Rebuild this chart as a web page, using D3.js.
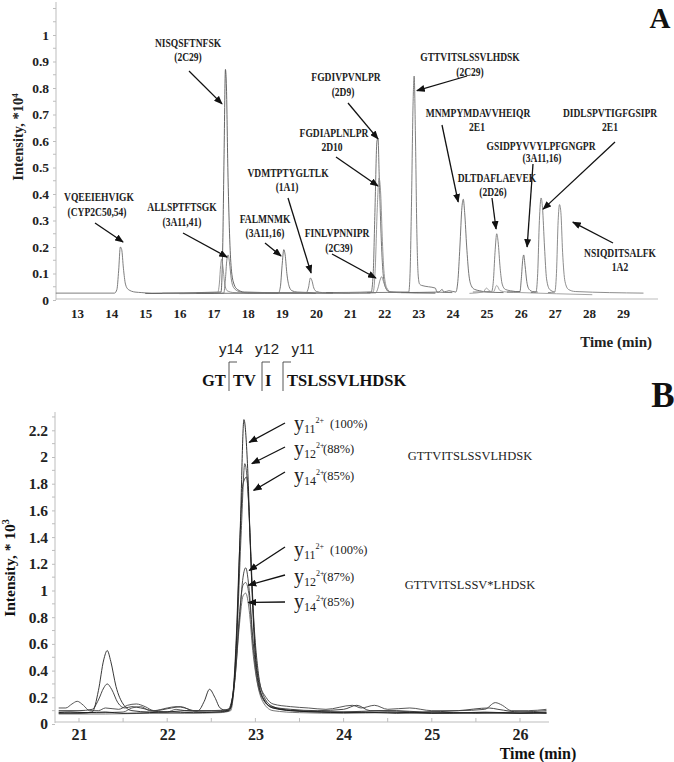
<!DOCTYPE html>
<html><head><meta charset="utf-8">
<script src="https://cdn.jsdelivr.net/npm/d3@7"></script>
<style>body{margin:0;background:#fff} svg{display:block}</style>
</head><body><svg id="c" width="674" height="762"></svg>
<script>
// ---------------- DATA ----------------
// Panel A: time (min) axis and intensity (*10^4) axis
const timeTicksA = [13,14,15,16,17,18,19,20,21,22,23,24,25,26,27,28,29];
const intensityTicksA = [0,0.1,0.2,0.3,0.4,0.5,0.6,0.7,0.8,0.9,1];
const intensityLabelsA = ["0","0.1","0.2","0.3","0.4","0.5","0.6","0.7","0.8","0.9","1"];
const intensityMinorA = [0.05,0.15,0.25,0.35,0.45,0.55,0.65,0.75,0.85,0.95,1.05,1.1];

// Panel A chromatogram traces: [time, intensity*10^4]
const traceA_VQE = [[12.38,0.026],[14.1,0.026],[14.17,0.04],[14.22,0.11],[14.27,0.2],[14.31,0.19],[14.36,0.12],[14.42,0.06],[14.5,0.04],[14.7,0.03],[14.9,0.028],[15.2,0.025],[17.0,0.025]];
const traceA_NIS = [[15.0,0.025],[17.22,0.03],[17.27,0.2],[17.31,0.55],[17.35,0.87],[17.38,0.8],[17.42,0.5],[17.47,0.25],[17.52,0.12],[17.6,0.06],[17.7,0.04],[17.9,0.03],[20.0,0.025]];
const traceA_ALL1 = [[15.5,0.026],[17.12,0.027],[17.17,0.06],[17.21,0.13],[17.24,0.155],[17.28,0.12],[17.33,0.06],[17.4,0.035],[17.6,0.028],[18.5,0.025],[19.5,0.025]];
const traceA_ALL2 = [[16.0,0.024],[17.3,0.026],[17.35,0.08],[17.39,0.15],[17.43,0.17],[17.47,0.14],[17.52,0.08],[17.6,0.045],[17.75,0.032],[18.0,0.027],[21.0,0.025]];
const traceA_FAL = [[16.5,0.025],[18.9,0.026],[18.96,0.05],[19.01,0.13],[19.06,0.19],[19.1,0.17],[19.15,0.1],[19.22,0.05],[19.3,0.035],[19.45,0.03],[20.5,0.026]];
const traceA_VDM = [[18.0,0.028],[19.72,0.028],[19.78,0.045],[19.84,0.083],[19.88,0.075],[19.94,0.045],[20.02,0.032],[20.2,0.028],[21.6,0.026]];
const traceA_FGDIV = [[20.3,0.028],[21.62,0.03],[21.68,0.1],[21.73,0.33],[21.79,0.6],[21.82,0.61],[21.86,0.45],[21.91,0.25],[21.97,0.1],[22.05,0.045],[22.15,0.03],[23.0,0.028]];
const traceA_FGDIA = [[20.5,0.026],[21.68,0.03],[21.74,0.12],[21.8,0.35],[21.85,0.46],[21.9,0.4],[21.95,0.22],[22.0,0.1],[22.08,0.045],[22.2,0.03],[23.5,0.026]];
const traceA_FIN = [[20.8,0.025],[21.75,0.027],[21.82,0.045],[21.88,0.075],[21.93,0.088],[21.98,0.07],[22.05,0.045],[22.15,0.032],[22.4,0.028],[23.5,0.026]];
const traceA_GTT = [[21.5,0.028],[22.72,0.03],[22.76,0.1],[22.8,0.35],[22.85,0.75],[22.88,0.845],[22.92,0.6],[22.96,0.25],[23.0,0.09],[23.04,0.06],[23.1,0.055],[23.3,0.05],[23.5,0.045],[23.55,0.03],[24.0,0.028]];
const traceA_MNM = [[22.5,0.028],[23.6,0.03],[23.7,0.04],[23.75,0.03],[23.9,0.035],[24.1,0.03],[24.16,0.07],[24.22,0.2],[24.28,0.35],[24.32,0.38],[24.36,0.33],[24.42,0.2],[24.48,0.1],[24.55,0.055],[24.65,0.04],[24.8,0.035],[25.0,0.03],[25.5,0.028]];
const traceA_DLT = [[24.6,0.03],[25.15,0.032],[25.2,0.07],[25.25,0.18],[25.3,0.25],[25.34,0.22],[25.4,0.12],[25.46,0.06],[25.55,0.04],[25.7,0.035],[26.0,0.03]];
const traceA_bump = [[24.5,0.025],[24.9,0.03],[25.0,0.045],[25.08,0.035],[25.2,0.03],[25.3,0.055],[25.4,0.035],[25.6,0.03],[26.0,0.028],[28.1,0.02]];
const traceA_GSI = [[25.6,0.03],[25.98,0.032],[26.02,0.08],[26.06,0.15],[26.09,0.17],[26.13,0.13],[26.18,0.07],[26.25,0.04],[26.35,0.032],[26.5,0.03]];
const traceA_DID = [[26.3,0.028],[26.45,0.03],[26.5,0.1],[26.55,0.3],[26.6,0.385],[26.64,0.35],[26.7,0.2],[26.76,0.08],[26.85,0.04],[27.0,0.03]];
const traceA_NSI = [[26.8,0.028],[27.0,0.03],[27.05,0.1],[27.1,0.3],[27.14,0.36],[27.18,0.33],[27.23,0.18],[27.3,0.07],[27.4,0.04],[27.6,0.032],[29.6,0.026]];
const tracesA = [traceA_VQE, traceA_NIS, traceA_ALL1, traceA_ALL2, traceA_FAL, traceA_VDM, traceA_FGDIV, traceA_FGDIA, traceA_FIN, traceA_GTT, traceA_MNM, traceA_DLT, traceA_bump, traceA_GSI, traceA_DID, traceA_NSI];

// Panel A annotations
const peptidesA = ["VQEEIEHVIGK","ALLSPTFTSGK","NISQSFTNFSK","FALMNMK","VDMTPTYGLTLK","FINLVPNNIPR","FGDIAPLNLPR","FGDIVPVNLPR","GTTVITSLSSVLHDSK","MNMPYMDAVVHEIQR","DLTDAFLAEVEK","GSIDPYVVYLPFGNGPR","DIDLSPVTIGFGSIPR","NSIQDITSALFK"];
const isoformsA = ["(CYP2C50,54)","(3A11,41)","(2C29)","(3A11,16)","(1A1)","(2C39)","2D10","(2D9)","(2C29)","2E1","(2D26)","(3A11,16)","2E1","1A2"];
const tipTimesA = [14.35,17.4,17.25,18.98,19.86,21.76,21.82,21.82,22.96,24.17,25.28,26.19,26.66,27.53];
const tipValuesA = [0.219,0.162,0.74,0.166,0.102,0.083,0.43,0.608,0.79,0.37,0.268,0.2,0.343,0.294];

// Panel B
const timeTicksB = [21,22,23,24,25,26];
const timeMinorB = [21.5,22.5,23.5,24.5,25.5];
const intensityTicksB = [0,0.2,0.4,0.6,0.8,1,1.2,1.4,1.6,1.8,2,2.2];
const intensityLabelsB = ["0","0.2","0.4","0.6","0.8","1","1.2","1.4","1.6","1.8","2","2.2"];
const intensityMinorB = [0.1,0.3,0.5,0.7,0.9,1.1,1.3,1.5,1.7,1.9,2.1,2.3];

const traceB_y11 = [[20.77,0.085],[20.9,0.09],[21.1,0.085],[21.3,0.09],[21.5,0.08],[21.8,0.085],[22.0,0.09],[22.3,0.085],[22.6,0.09],[22.7,0.1],[22.75,0.25],[22.79,0.7],[22.83,1.5],[22.87,2.28],[22.91,1.95],[22.95,1.2],[22.99,0.6],[23.04,0.3],[23.1,0.18],[23.2,0.12],[23.4,0.1],[23.7,0.09],[24.0,0.085],[24.5,0.09],[25.0,0.08],[25.5,0.085],[26.0,0.08],[26.3,0.085]];
const traceB_y12 = [[20.77,0.12],[20.85,0.12],[20.92,0.15],[20.98,0.17],[21.05,0.14],[21.12,0.1],[21.22,0.1],[21.3,0.12],[21.45,0.11],[21.55,0.14],[21.65,0.15],[21.75,0.13],[21.85,0.1],[22.0,0.12],[22.1,0.13],[22.2,0.12],[22.3,0.1],[22.5,0.1],[22.7,0.11],[22.76,0.3],[22.8,0.8],[22.84,1.45],[22.88,1.95],[22.92,1.7],[22.96,1.05],[23.0,0.55],[23.05,0.3],[23.12,0.2],[23.2,0.15],[23.4,0.13],[23.6,0.12],[23.8,0.11],[24.1,0.14],[24.2,0.12],[24.35,0.14],[24.5,0.11],[24.75,0.12],[25.0,0.1],[25.3,0.1],[25.6,0.11],[25.72,0.16],[25.8,0.14],[25.9,0.1],[26.1,0.1],[26.3,0.11]];
const traceB_y14 = [[20.77,0.08],[21.0,0.08],[21.15,0.09],[21.22,0.25],[21.28,0.48],[21.32,0.55],[21.36,0.47],[21.42,0.28],[21.5,0.15],[21.6,0.1],[21.8,0.09],[22.0,0.09],[22.2,0.1],[22.35,0.1],[22.42,0.17],[22.48,0.26],[22.54,0.2],[22.6,0.12],[22.68,0.1],[22.74,0.2],[22.78,0.6],[22.82,1.3],[22.86,1.8],[22.9,1.85],[22.94,1.4],[22.98,0.8],[23.03,0.4],[23.1,0.2],[23.2,0.13],[23.4,0.1],[23.8,0.09],[24.2,0.09],[24.6,0.08],[25.0,0.09],[25.5,0.08],[26.0,0.09],[26.3,0.08]];
const traceB_y11v = [[20.77,0.1],[21.0,0.1],[21.15,0.11],[21.22,0.18],[21.28,0.27],[21.32,0.3],[21.37,0.26],[21.44,0.16],[21.52,0.12],[21.6,0.13],[21.7,0.12],[21.85,0.1],[22.05,0.12],[22.15,0.13],[22.3,0.1],[22.6,0.1],[22.72,0.12],[22.77,0.35],[22.82,0.8],[22.86,1.1],[22.89,1.17],[22.93,1.0],[22.97,0.65],[23.02,0.35],[23.08,0.2],[23.18,0.13],[23.4,0.11],[23.7,0.1],[24.0,0.11],[24.15,0.14],[24.3,0.1],[24.6,0.1],[24.9,0.09],[25.3,0.1],[25.65,0.12],[25.75,0.11],[26.0,0.09],[26.3,0.1]];
const traceB_y12v = [[20.77,0.09],[21.2,0.085],[21.5,0.09],[21.6,0.12],[21.7,0.13],[21.8,0.1],[22.0,0.09],[22.1,0.11],[22.2,0.1],[22.5,0.09],[22.7,0.1],[22.76,0.3],[22.81,0.75],[22.86,1.04],[22.89,1.06],[22.93,0.95],[22.97,0.6],[23.02,0.32],[23.1,0.17],[23.2,0.12],[23.5,0.1],[24.0,0.09],[24.4,0.1],[24.8,0.09],[25.2,0.08],[25.6,0.09],[26.0,0.08],[26.3,0.09]];
const traceB_y14v = [[20.77,0.075],[21.3,0.075],[21.8,0.08],[22.2,0.08],[22.6,0.085],[22.72,0.1],[22.77,0.35],[22.82,0.75],[22.86,0.96],[22.89,0.98],[22.93,0.85],[22.97,0.55],[23.03,0.28],[23.1,0.15],[23.2,0.1],[23.5,0.085],[24.0,0.08],[24.5,0.085],[25.0,0.08],[25.5,0.085],[26.0,0.08],[26.3,0.08]];
const tracesB = [traceB_y14v, traceB_y12v, traceB_y11v, traceB_y14, traceB_y12, traceB_y11];

const ionNamesB = ["11","12","14","11","12","14"];
const ionShareB = ["(100%)","(88%)","(85%)","(100%)","(87%)","(85%)"];
const tipTimesB = [22.93,22.96,22.98,22.93,22.92,22.92];
const tipValuesB = [2.11,1.95,1.75,1.15,1.04,0.91];
const sequencesB = ["GTTVITSLSSVLHDSK","GTTVITSLSSV*LHDSK"];

// Fragment map
const fragSegments = ["GT","TV","I","TSLSSVLHDSK"];
const fragIons = ["y14","y12","y11"];

// ---------------- LAYOUT / STYLE ----------------
const SERIF = "'Liberation Serif','Times New Roman',serif";
const svg = d3.select("#c");
const defs = svg.append("defs");
defs.append("marker").attr("id","ah").attr("markerUnits","userSpaceOnUse")
  .attr("viewBox","0 0 10 8").attr("refX",9).attr("refY",4)
  .attr("markerWidth",9).attr("markerHeight",7).attr("orient","auto")
  .append("path").attr("d","M0,0 L10,4 L0,8 Z").attr("fill","#111");

// horizontally condensed text label placed via transform
function condensedText(parent, x, y, txt, factor){
  return parent.append("g").attr("transform",`translate(${x},${y}) scale(${factor},1)`)
    .append("text").attr("x",0).attr("y",0).attr("text-anchor","middle").text(txt);
}

// ===== Panel A =====
const xA = d3.scaleLinear().domain([13,29]).range([77,623]);
const yA = d3.scaleLinear().domain([0,1]).range([300,35]);
const gA = svg.append("g");
const axisColor = "#bdbdbd";

gA.append("line").attr("x1",56).attr("x2",56).attr("y1",2).attr("y2",yA(0)).attr("stroke",axisColor);
gA.append("line").attr("x1",56).attr("x2",658).attr("y1",yA(0)-1).attr("y2",yA(0)-1).attr("stroke",axisColor);

const yAxisA = d3.axisLeft(yA).tickValues(intensityTicksA).tickSize(3).tickPadding(4)
  .tickFormat((d,i)=>intensityLabelsA[i]);
const yAg = gA.append("g").attr("transform","translate(56,0)").call(yAxisA);
yAg.select(".domain").remove();
yAg.selectAll(".tick line").attr("stroke",axisColor);
yAg.selectAll(".tick text").attr("font-family",SERIF).attr("font-weight","bold").attr("font-size",13.5).attr("fill","#222");
gA.append("g").selectAll("line").data(intensityMinorA).join("line")
  .attr("x1",53).attr("x2",56).attr("y1",d=>yA(d)).attr("y2",d=>yA(d)).attr("stroke",axisColor);

const xAxisA = d3.axisBottom(xA).tickValues(timeTicksA).tickSize(0).tickPadding(9).tickFormat(d3.format("d"));
const xAg = gA.append("g").attr("transform",`translate(0,${yA(0)})`).call(xAxisA);
xAg.select(".domain").remove();
xAg.selectAll(".tick text").attr("font-family",SERIF).attr("font-weight","bold").attr("font-size",13).attr("fill","#222");

gA.append("text").attr("x",652).attr("y",347).attr("text-anchor","end")
  .attr("font-family",SERIF).attr("font-weight","bold").attr("font-size",15).attr("fill","#222").text("Time (min)");
const ytA = gA.append("text").attr("transform","translate(23,137) rotate(-90)").attr("text-anchor","middle")
  .attr("font-family",SERIF).attr("font-weight","bold").attr("font-size",14.5).attr("fill","#222");
ytA.append("tspan").text("Intensity, *10");
ytA.append("tspan").attr("font-size",9).attr("dy",-5).text("4");

const lineA = d3.line().x(d=>xA(d[0])).y(d=>yA(d[1])).curve(d3.curveMonotoneX);
const grayA = ["#6f6f6f","#555","#8a8a8a","#777","#666","#777","#666","#8c8c8c","#888","#707070","#666","#777","#9a9a9a","#666","#777","#808080"];
gA.append("g").selectAll("path").data(tracesA).join("path")
  .attr("d",lineA).attr("fill","none").attr("stroke",(d,i)=>grayA[i]).attr("stroke-width",0.9);

// annotations A: [labelX, peptideBaselineY, isoformBaselineY, arrowStartX, arrowStartY, isoformX]
const layoutA = [
  [99,201,216,95,223,97],
  [182,211,226,183,233,182],
  [188,47,61,189,71,188],
  [265,223,237,265,243,265],
  [288,177,191,288,198,287],
  [337,237,252,332,254,339],
  [334,137,151,336,157,332],
  [346,81,96,348,103,343],
  [470,61,76,467,76,470],
  [478,117,131,442,125,477],
  [497,182,196,492,198,493],
  [541,150,162,533,164,542],
  [610,117,131,615,142,610],
  [620,257,271,613,243,620]
];
const annA = gA.append("g").attr("font-family",SERIF).attr("font-weight","bold").attr("font-size",11.5).attr("fill","#222");
peptidesA.forEach((p,i)=>{
  const L = layoutA[i];
  condensedText(annA, L[0], L[1], p, 0.83);
  condensedText(annA, L[5], L[2], isoformsA[i], 0.83);
  annA.append("line").attr("x1",L[3]).attr("y1",L[4]).attr("x2",xA(tipTimesA[i])).attr("y2",yA(tipValuesA[i]))
    .attr("stroke","#111").attr("stroke-width",1.3).attr("marker-end","url(#ah)");
});
svg.append("text").attr("x",660).attr("y",28).attr("text-anchor","middle").attr("font-family",SERIF)
  .attr("font-weight","bold").attr("font-size",29).attr("fill","#111").text("A");

// ===== Fragment map =====
const fm = svg.append("g").attr("font-family",SERIF).attr("font-weight","bold").attr("font-size",16.5).attr("fill","#111");
const segX = [202,233,265,287];
const brX = [229,262,283];
fragSegments.forEach((s,i)=>{ fm.append("text").attr("x",segX[i]).attr("y",386).text(s); });
brX.forEach(x=>{
  fm.append("path").attr("d",`M${x},391 L${x},362 L${x+8},362`).attr("fill","none").attr("stroke","#444").attr("stroke-width",0.9);
});
const ionX = [231,267,303];
fragIons.forEach((s,i)=>{
  svg.append("text").attr("x",ionX[i]).attr("y",354).attr("text-anchor","middle").attr("font-family","'Liberation Sans',Arial,sans-serif")
    .attr("font-size",15).attr("fill","#222").text(s);
});

// ===== Panel B =====
const xB = d3.scaleLinear().domain([21,26]).range([79,520]);
const yB = d3.scaleLinear().domain([0,2.2]).range([724,430.3]);
const gB = svg.append("g");
gB.append("line").attr("x1",55).attr("x2",55).attr("y1",412).attr("y2",yB(0)-1).attr("stroke",axisColor);
gB.append("line").attr("x1",55).attr("x2",549).attr("y1",yB(0)-2).attr("y2",yB(0)-2).attr("stroke",axisColor);
const yAxisB = d3.axisLeft(yB).tickValues(intensityTicksB).tickSize(3).tickPadding(4).tickFormat((d,i)=>intensityLabelsB[i]);
const yBg = gB.append("g").attr("transform","translate(55,0)").call(yAxisB);
yBg.select(".domain").remove();
yBg.selectAll(".tick line").attr("stroke",axisColor);
yBg.selectAll(".tick text").attr("font-family",SERIF).attr("font-weight","bold").attr("font-size",15.5).attr("fill","#222");
gB.append("g").selectAll("line").data(intensityMinorB).join("line")
  .attr("x1",52).attr("x2",55).attr("y1",d=>yB(d)).attr("y2",d=>yB(d)).attr("stroke",axisColor);
gB.append("g").selectAll("line").data(timeMinorB.concat(timeTicksB)).join("line")
  .attr("x1",d=>xB(d)).attr("x2",d=>xB(d)).attr("y1",yB(0)-2).attr("y2",yB(0)-6).attr("stroke",axisColor);
const xAxisB = d3.axisBottom(xB).tickValues(timeTicksB).tickSize(0).tickPadding(7).tickFormat(d3.format("d"));
const xBg = gB.append("g").attr("transform",`translate(0,${yB(0)-2})`).call(xAxisB);
xBg.select(".domain").remove();
xBg.selectAll(".tick text").attr("font-family",SERIF).attr("font-weight","bold").attr("font-size",16).attr("fill","#222");

gB.append("text").attr("x",538).attr("y",759).attr("text-anchor","middle")
  .attr("font-family",SERIF).attr("font-weight","bold").attr("font-size",16).attr("fill","#111").text("Time (min)");
const ytB = gB.append("text").attr("transform","translate(15,568) rotate(-90)").attr("text-anchor","middle")
  .attr("font-family",SERIF).attr("font-weight","bold").attr("font-size",15.5).attr("fill","#111");
ytB.append("tspan").text("Intensity, * 10");
ytB.append("tspan").attr("font-size",10).attr("dy",-6).text("3");

const lineB = d3.line().x(d=>xB(d[0])).y(d=>yB(d[1])).curve(d3.curveMonotoneX);
const grayB = ["#666","#555","#333","#222","#444","#1a1a1a"];
gB.append("g").selectAll("path").data(tracesB).join("path")
  .attr("d",lineB).attr("fill","none").attr("stroke",(d,i)=>grayB[i]).attr("stroke-width",0.9);

// annotations B: [textBaselineY, arrowStartY, shareX]
const layoutB = [[430,423,330],[455,447,323],[482,472,323],[556,547,330],[583,575,323],[608,602,323]];
const annB = gB.append("g").attr("font-family",SERIF).attr("fill","#222");
ionNamesB.forEach((n,i)=>{
  const L = layoutB[i];
  const t = annB.append("text").attr("x",294).attr("y",L[0]);
  t.append("tspan").attr("font-size",20).text("y");
  t.append("tspan").attr("font-size",12).attr("dy",3).text(n);
  t.append("tspan").attr("font-size",8).attr("dy",-10).text("2+");
  annB.append("text").attr("x",L[2]).attr("y",L[0]-2).attr("font-size",12.5).text(ionShareB[i]);
  annB.append("line").attr("x1",285).attr("y1",L[1]).attr("x2",xB(tipTimesB[i])).attr("y2",yB(tipValuesB[i]))
    .attr("stroke","#111").attr("stroke-width",1.3).attr("marker-end","url(#ah)");
});
annB.append("text").attr("x",470).attr("y",460).attr("text-anchor","middle").attr("font-size",12.5).text(sequencesB[0]);
annB.append("text").attr("x",470).attr("y",589).attr("text-anchor","middle").attr("font-size",12.5).text(sequencesB[1]);
svg.append("text").attr("x",663).attr("y",407).attr("text-anchor","middle").attr("font-family",SERIF)
  .attr("font-weight","bold").attr("font-size",35).attr("fill","#111").text("B");
</script></body></html>
